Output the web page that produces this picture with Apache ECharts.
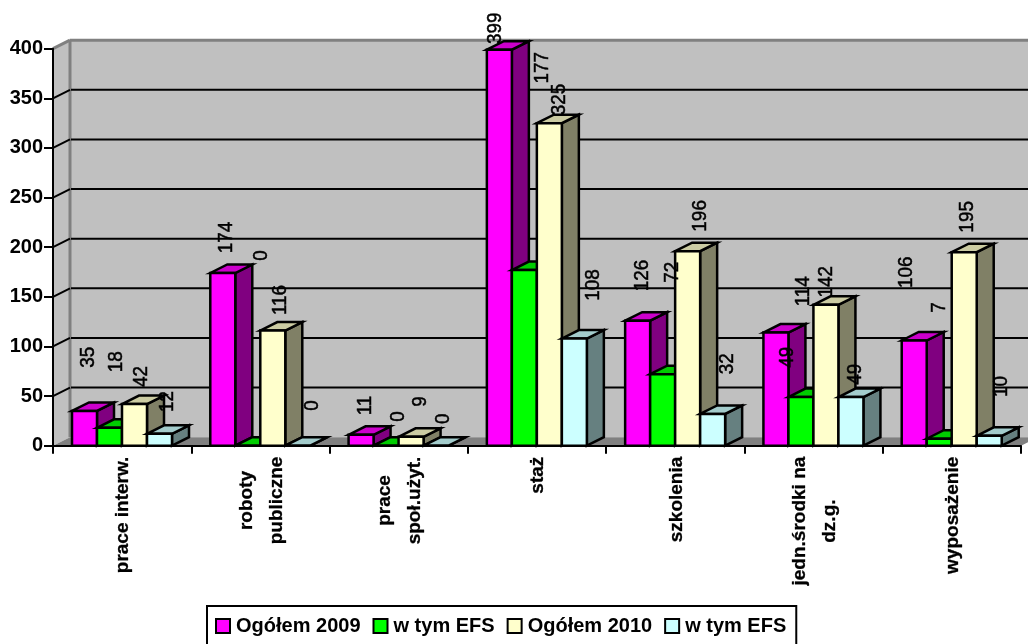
<!DOCTYPE html>
<html><head><meta charset="utf-8">
<style>html,body{margin:0;padding:0;background:#fff}#c{width:1028px;height:644px}</style>
<script src="https://cdn.jsdelivr.net/npm/echarts@6/dist/echarts.min.js"></script>
</head><body><div id="c"></div>
<script>
const categories = ['prace interw.','roboty\npubliczne','prace\nspoł.użyt.','staż','szkolenia','jedn.środki na\ndz.g.','wyposażenie'];
const ogolem2009 = [35,174,11,399,126,114,106];
const efs2009    = [18,0,0,177,72,49,7];
const ogolem2010 = [42,116,9,325,196,142,195];
const efs2010    = [12,0,0,108,32,49,10];
const yTicks = [0,50,100,150,200,250,300,350,400];
// the trailing space keeps the two "w tym EFS" legend entries separate; the legend formatter trims it
const seriesNames = ['Ogółem 2009','w tym EFS','Ogółem 2010','w tym EFS '];

// label placement relative to each bar's top centre
const labelDx = [
  [4.2,3.9,4.6,-4.4,4.3,27.7,-8.3],
  [6.5,13.9,12.2,18.3,9.3,-13.7,-0.3],
  [7.2,7.2,9.2,9.9,13,0.3,2.7],
  [7.5,14.2,7.2,19.3,15,4.3,11.7]];
const labelDy = [
  [-53.7,-35.4,-29.3,-21.5,-45.1,-41.3,-68.2],
  [-66.1,-190.3,-29.3,-202.2,-101.9,-39.9,-131.3],
  [-27.5,-30.6,-35.3,-23.6,-35.3,-23,-35.3],
  [-32.3,-40.3,-27,-53.5,-50.2,-22.9,-49.3]];

const palette = [
  {front:'#FF00FF',side:'#800080',top:'#CC00CC'},
  {front:'#00FF00',side:'#008000',top:'#00CC00'},
  {front:'#FFFFCC',side:'#808066',top:'#CCCCA3'},
  {front:'#CCFFFF',side:'#668080',top:'#A3CCCC'}];
const DX = 17, DY = 8.5, BW = 25, MARGIN = 19;
const FF = '"Liberation Sans", Arial, sans-serif';
const edge = {stroke:'#000', lineWidth:2.5, lineJoin:'miter'};

function poly(points, fill, z2, stroke){
  return {type:'polygon', z2:z2, shape:{points:points},
    style:Object.assign({fill:fill}, stroke===false?{stroke:null,lineWidth:0}:edge)};
}
function barSeries(values, s){
  return {
    type:'custom', name:seriesNames[s], data:values.map((v,i)=>[i,v]),
    encode:{x:0,y:1}, z:3, clip:false, silent:true,
    itemStyle:{color:palette[s].front,borderColor:'#000',borderWidth:2.5},
    renderItem(params, api){
      const i = api.value(0), v = api.value(1);
      const band = api.size([1,0])[0];
      const p0 = api.coord([i,0]), pv = api.coord([i,v]);
      const start = p0[0]-band/2+MARGIN+BW*s;
      const x0 = start, x1 = start+BW, y0 = p0[1], y1 = pv[1];
      const z = i*10+s;
      const c = palette[s];
      return {type:'group', children:[
        poly([[x1,y0],[x1+DX,y0-DY],[x1+DX,y1-DY],[x1,y1]], c.side, z),
        poly([[x0,y1],[x0+DX,y1-DY],[x1+DX,y1-DY],[x1,y1]], c.top, z),
        poly([[x0,y0],[x1,y0],[x1,y1],[x0,y1]], c.front, z),
        {type:'text', z2:500, x:(x0+x1)/2+labelDx[s][i], y:y1+labelDy[s][i], rotation:Math.PI/2, scaleX:0.9,
          style:{text:String(v), x:0, y:0, align:'center', verticalAlign:'middle',
            fontFamily:FF, fontSize:21, fontWeight:'normal', fill:'#000', stroke:'#000', lineWidth:0.5}}
      ]};
    }
  };
}
const wallSeries = {
  type:'custom', name:'wall', data:[[0,0]], encode:{x:0,y:1}, z:1, silent:true, clip:false,
  renderItem(params, api){
    const band = api.size([1,0])[0];
    const lft = api.coord([0,0])[0]-band/2;
    const rgt = api.coord([categories.length-1,0])[0]+band/2;
    const y0 = api.coord([0,0])[1], yT = api.coord([0,yTicks[yTicks.length-1]])[1];
    const grey = {stroke:'#808080', lineWidth:3};
    const kids = [
      poly([[lft+DX,y0-DY],[rgt+DX,y0-DY],[rgt+DX,yT-DY],[lft+DX,yT-DY]], '#C0C0C0', 1, false),
      poly([[lft,y0],[lft+DX,y0-DY],[lft+DX,yT-DY],[lft,yT]], '#C0C0C0', 1, false),
      poly([[lft,y0],[rgt,y0],[rgt+DX,y0-DY],[lft+DX,y0-DY]], '#808080', 2, false),
      {type:'line', z2:3, shape:{x1:lft+DX,y1:y0-DY,x2:lft+DX,y2:yT-DY}, style:grey},
      {type:'line', z2:3, shape:{x1:lft+DX,y1:yT-DY,x2:rgt+DX,y2:yT-DY}, style:grey},
      {type:'line', z2:3, shape:{x1:lft,y1:yT,x2:lft+DX,y2:yT-DY}, style:grey}
    ];
    yTicks.slice(1,-1).forEach(t=>{
      const y = api.coord([0,t])[1];
      const st = {stroke:'#000', lineWidth:2};
      kids.push({type:'line', z2:4, shape:{x1:lft,y1:y,x2:lft+DX,y2:y-DY}, style:st});
      kids.push({type:'line', z2:4, shape:{x1:lft+DX+1,y1:y-DY,x2:rgt+DX,y2:y-DY}, style:st});
    });
    return {type:'group', children:kids};
  }
};
const measure = document.createElement('canvas').getContext('2d');
const catFont = 'bold 19px "Liberation Sans"';
const catLabelSeries = {
  type:'custom', name:'categoryLabels', data:categories.map((c,i)=>[i,0]), encode:{x:0,y:1}, z:5, silent:true, clip:false,
  renderItem(params, api){
    const i = api.value(0);
    const p = api.coord([i,0]);
    measure.font = catFont;
    const longest = Math.max.apply(null, categories[i].split('\n').map(t=>measure.measureText(t).width));
    return {type:'text', x:p[0]+1, y:p[1]+11+longest/2, rotation:Math.PI/2,
      style:{text:categories[i], x:0, y:0, align:'center', verticalAlign:'middle', lineHeight:30,
        fontFamily:FF, fontSize:19, fontWeight:'bold', fill:'#000', stroke:'#000', lineWidth:0.3}};
  }
};
const chart = echarts.init(document.getElementById('c'), null, {renderer:'canvas'});
chart.setOption({
  animation:false,
  backgroundColor:'#fff',
  grid:{left:53, right:7, top:48.7, height:397},
  legend:{
    left:207, top:606, orient:'horizontal', icon:'rect', itemWidth:14, itemHeight:14, itemGap:12,
    padding:[10,10,10,8], borderColor:'#000', borderWidth:2, selectedMode:false,
    formatter:n=>n.trim(),
    textStyle:{fontFamily:FF, fontSize:20, fontWeight:'bold', color:'#000', padding:[0,0,0,1]},
    data:seriesNames
  },
  xAxis:{type:'category', data:categories, boundaryGap:true, z:6,
    axisLine:{show:true,onZero:false,lineStyle:{color:'#000',width:2}},
    axisTick:{show:true,alignWithLabel:false,length:8,lineStyle:{color:'#000',width:2}},
    axisLabel:{show:false}, splitLine:{show:false}},
  yAxis:{type:'value', min:0, max:400, interval:50, z:6,
    axisLine:{show:true,lineStyle:{color:'#000',width:2}},
    axisTick:{show:true,length:9,lineStyle:{color:'#000',width:2}},
    axisLabel:{show:true,margin:10,fontFamily:FF,fontSize:20,fontWeight:'bold',color:'#000'},
    splitLine:{show:false}},
  series:[wallSeries, barSeries(ogolem2009,0), barSeries(efs2009,1), barSeries(ogolem2010,2), barSeries(efs2010,3), catLabelSeries]
});
</script></body></html>
